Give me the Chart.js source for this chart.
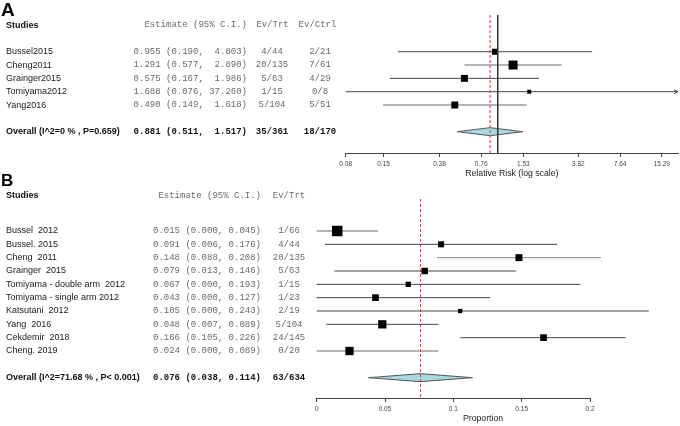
<!DOCTYPE html>
<html>
<head>
<meta charset="utf-8">
<script src="https://cdn.jsdelivr.net/npm/chart.js@4.4.1/dist/chart.umd.min.js"></script>
<style>
    html, body { margin: 0; padding: 0; background: #fff; }
    #wrap { position: relative; width: 680px; height: 426px; overflow: hidden; }
    #wrap canvas { position: absolute; left: 0; }
    #chartA { top: 0; }
    #chartB { top: 168px; }
</style>
</head>
<body>
<div id="wrap">
    <canvas id="chartA" width="680" height="180"></canvas>
    <canvas id="chartB" width="680" height="258"></canvas>
</div>
<script>
// Panel A - relative risk per study
const studiesA = ['Bussel2015', 'Cheng2011', 'Grainger2015', 'Tomiyama2012', 'Yang2016'];
const estA = [0.955, 1.291, 0.575, 1.688, 0.490];
const lowA = [0.190, 0.577, 0.167, 0.076, 0.149];
const highA = [4.803, 2.890, 1.986, 37.260, 1.618];
const evTrtA = ['4/44', '20/135', '5/63', '1/15', '5/104'];
const evCtrlA = ['2/21', '7/61', '4/29', '0/8', '5/51'];
const overallLabelA = 'Overall (I^2=0 % , P=0.659)';
const overallA = [0.881, 0.511, 1.517];   // estimate, low, high
const overallEvA = ['35/361', '18/170'];
const ticksA = [0.08, 0.15, 0.38, 0.76, 1.53, 3.82, 7.64, 15.29];
const tickLabelsA = ['0.08', '0.15', '0.38', '0.76', '1.53', '3.82', '7.64', '15.29'];

// Panel B - proportion per study
const studiesB = ['Bussel  2012', 'Bussel. 2015', 'Cheng  2011', 'Grainger  2015',
    'Tomiyama - double arm  2012', 'Tomiyama - single arm 2012', 'Katsutani  2012',
    'Yang  2016', 'Cekdemir  2018', 'Cheng. 2019'];
const estB = [0.015, 0.091, 0.148, 0.079, 0.067, 0.043, 0.105, 0.048, 0.166, 0.024];
const lowB = [0.000, 0.006, 0.088, 0.013, 0.000, 0.000, 0.000, 0.007, 0.105, 0.000];
const highB = [0.045, 0.176, 0.208, 0.146, 0.193, 0.127, 0.243, 0.089, 0.226, 0.089];
const evTrtB = ['1/66', '4/44', '20/135', '5/63', '1/15', '1/23', '2/19', '5/104', '24/145', '0/20'];
const overallLabelB = 'Overall (I^2=71.68 % , P< 0.001)';
const overallB = [0.076, 0.038, 0.114];
const overallEvB = ['63/634'];
const ticksB = [0, 0.05, 0.1, 0.15, 0.2];
const tickLabelsB = ['0', '0.05', '0.1', '0.15', '0.2'];

// Styles
const boxSidesA = [6, 9, 7, 4, 7];
const boxSidesB = [10.5, 6, 7, 6.5, 5.3, 6.7, 4.3, 8.3, 6.7, 8.3];
const DARK = '#444';
const LIGHT = '#9c9c9c';
const ciColorsA = [DARK, LIGHT, DARK, DARK, LIGHT];
const ciColorsB = [LIGHT, DARK, LIGHT, DARK, DARK, DARK, DARK, DARK, DARK, LIGHT];

const SANS = '"Liberation Sans", Arial, sans-serif';
const MONO = '"Liberation Mono", "Courier New", monospace';
Chart.defaults.font.family = SANS;

// Format "0.955 (0.190,  4.803)"
function formatCI(est, low, high, width) {
    return est.toFixed(3) + ' (' + low.toFixed(3) + ', ' + high.toFixed(3).padStart(width) + ')';
}

// Build the marks of one forest plot
function forestDatasets(p) {
    const sets = [];
    const ov = p.overallRow;
    const h = 0.3;

    // reference lines on top
    p.refLines.forEach(r => {
        sets.push({
            data: [{x: r.x, y: p.refTop}, {x: r.x, y: p.refBottom}],
            borderColor: r.color, borderWidth: 1, borderDash: r.dash || [],
            pointRadius: 0, clip: false
        });
    });

    // study boxes
    sets.push({
        data: p.est.map((e, i) => ({x: e, y: i})),
        showLine: false,
        pointStyle: 'rect',
        pointRadius: p.boxSides.map(s => s / Math.SQRT2),
        pointBackgroundColor: '#000',
        pointBorderColor: '#000',
        pointBorderWidth: 0,
        clip: false
    });

    // summary diamond
    sets.push({
        data: [
            {x: p.overall[1], y: ov},
            {x: p.overall[0], y: ov - h},
            {x: p.overall[2], y: ov},
            {x: p.overall[0], y: ov + h},
            {x: p.overall[1], y: ov}
        ],
        borderColor: '#555', borderWidth: 1,
        backgroundColor: '#a8d8e2', fill: 'shape',
        pointRadius: 0, clip: false
    });

    // confidence intervals
    p.est.forEach((e, i) => {
        sets.push({
            data: [{x: p.low[i], y: i}, {x: p.high[i], y: i}],
            borderColor: p.ciColors[i],
            borderWidth: p.ciColors[i] === LIGHT ? 1.4 : 1,
            pointRadius: 0,
            clip: p.clipCI
        });
    });
    return sets;
}

// Draw the study table and extras next to the plot
function tablePlugin(t) {
    return {
        id: 'table' + t.letter,
        afterDraw(chart) {
            const ctx = chart.ctx;
            const y = chart.scales.y;
            const x = chart.scales.x;
            ctx.save();

            // panel letter
            ctx.fillStyle = '#000';
            ctx.font = 'bold ' + t.letterSize + 'px ' + SANS;
            ctx.textAlign = 'left';
            ctx.textBaseline = 'alphabetic';
            ctx.fillText(t.letter, 1, t.letterBase);

            ctx.textBaseline = 'middle';
            const hy = y.getPixelForValue(t.headerRow);

            // headers
            ctx.fillStyle = '#111';
            ctx.font = 'bold 9px ' + SANS;
            ctx.fillText('Studies', 6, hy);
            ctx.fillStyle = '#6a6a6a';
            ctx.font = '9px ' + MONO;
            ctx.textAlign = 'right';
            ctx.fillText('Estimate (95% C.I.)', t.estRight, hy);
            ctx.textAlign = 'center';
            t.evHeaders.forEach((hd, k) => ctx.fillText(hd, t.evHeaderX[k], hy));

            // study rows
            const width = Math.max(...t.high.map(v => v.toFixed(3).length));
            t.studies.forEach((name, i) => {
                const ry = y.getPixelForValue(i);
                ctx.fillStyle = '#1a1a1a';
                ctx.font = '9px ' + SANS;
                ctx.textAlign = 'left';
                ctx.fillText(name, 6, ry);
                ctx.fillStyle = '#6a6a6a';
                ctx.font = '9px ' + MONO;
                ctx.textAlign = 'right';
                ctx.fillText(formatCI(t.est[i], t.low[i], t.high[i], width), t.estRight, ry);
                ctx.textAlign = 'center';
                t.evCols.forEach((col, k) => ctx.fillText(col[i], t.evX[k], ry));

                // arrow where the interval leaves the log axis
                if (t.arrows && t.high[i] > x.max) {
                    const ax = x.right;
                    ctx.strokeStyle = DARK;
                    ctx.lineWidth = 1;
                    ctx.beginPath();
                    ctx.moveTo(ax - 4, ry - 2);
                    ctx.lineTo(ax, ry);
                    ctx.lineTo(ax - 4, ry + 2);
                    ctx.stroke();
                }
            });

            // overall row
            const oy = y.getPixelForValue(t.overallRow);
            ctx.fillStyle = '#111';
            ctx.font = 'bold 9px ' + SANS;
            ctx.textAlign = 'left';
            ctx.fillText(t.overallLabel, 6, oy);
            ctx.font = 'bold 9px ' + MONO;
            ctx.textAlign = 'right';
            ctx.fillText(formatCI(t.overall[0], t.overall[1], t.overall[2], width), t.estRight, oy);
            ctx.textAlign = 'center';
            t.overallEv.forEach((ev, k) => ctx.fillText(ev, t.evX[k], oy));

            // free axis title
            if (t.axisTitle) {
                ctx.fillStyle = '#222';
                ctx.font = '8.7px ' + SANS;
                ctx.fillText(t.axisTitle, t.axisTitleX, t.axisTitleY);
            }
            ctx.restore();
        }
    };
}

function axisOptions(o) {
    return {
        type: o.type,
        min: o.min,
        max: o.max,
        afterBuildTicks: s => { s.ticks = o.ticks.map(v => ({value: v})); },
        afterFit: s => { s.height = o.height; },
        grid: { drawOnChartArea: false, drawTicks: true, tickLength: 4, color: DARK },
        border: { display: true, color: DARK, width: 1 },
        ticks: {
            autoSkip: false, maxRotation: 0, padding: 3, color: '#444',
            font: { size: 6.5, family: SANS },
            callback: (v, i) => o.labels[i]
        },
        title: o.title ? {
            display: true, text: o.title, color: '#222',
            font: { size: 8.7, family: SANS }, padding: { top: 0, bottom: 1 }
        } : { display: false }
    };
}

// Panel A
new Chart(document.getElementById('chartA'), {
    type: 'line',
    data: {
        datasets: forestDatasets({
            est: estA, low: lowA, high: highA, overall: overallA, overallRow: 6,
            boxSides: boxSidesA, ciColors: ciColorsA, clipCI: true,
            refTop: -2.75, refBottom: 7.6,
            refLines: [
                { x: overallA[0], color: '#e53030', dash: [3, 2] },
                { x: 1, color: '#333' }
            ]
        })
    },
    options: {
        responsive: false,
        animation: false,
        events: [],
        layout: { autoPadding: false, padding: { left: 345.7, right: 2, top: 0, bottom: 0 } },
        plugins: { legend: { display: false }, tooltip: { enabled: false } },
        scales: {
            x: axisOptions({ type: 'logarithmic', min: 0.08, max: 20, ticks: ticksA,
                labels: tickLabelsA, height: 27, title: 'Relative Risk (log scale)' }),
            y: { type: 'linear', display: false, reverse: true, min: -3.88, max: 7.6 }
        }
    },
    plugins: [tablePlugin({
        letter: 'A', letterSize: 19, letterBase: 15.5, headerRow: -2, arrows: true,
        studies: studiesA, est: estA, low: lowA, high: highA,
        evCols: [evTrtA, evCtrlA], evX: [272, 320],
        evHeaders: ['Ev/Trt', 'Ev/Ctrl'], evHeaderX: [272.5, 317.5],
        estRight: 247, overallRow: 6, overallLabel: overallLabelA,
        overall: overallA, overallEv: overallEvA
    })]
});

// Panel B
new Chart(document.getElementById('chartB'), {
    type: 'line',
    data: {
        datasets: forestDatasets({
            est: estB, low: lowB, high: highB, overall: overallB, overallRow: 11,
            boxSides: boxSidesB, ciColors: ciColorsB, clipCI: false,
            refTop: -2.4, refBottom: 12.525,
            refLines: [
                { x: overallB[0], color: '#e53030', dash: [3, 2] }
            ]
        })
    },
    options: {
        responsive: false,
        animation: false,
        events: [],
        layout: { autoPadding: false, padding: { left: 316.7, right: 90, top: 0, bottom: 0 } },
        plugins: { legend: { display: false }, tooltip: { enabled: false } },
        scales: {
            x: axisOptions({ type: 'linear', min: 0, max: 0.2, ticks: ticksB,
                labels: tickLabelsB, height: 28 }),
            y: { type: 'linear', display: false, reverse: true, min: -4.725, max: 12.525 }
        }
    },
    plugins: [tablePlugin({
        letter: 'B', letterSize: 17, letterBase: 17.5, headerRow: -2.65, arrows: false,
        studies: studiesB, est: estB, low: lowB, high: highB,
        evCols: [evTrtB], evX: [289],
        evHeaders: ['Ev/Trt'], evHeaderX: [289],
        estRight: 261, overallRow: 11, overallLabel: overallLabelB,
        overall: overallB, overallEv: overallEvB,
        axisTitle: 'Proportion', axisTitleX: 483, axisTitleY: 250.7
    })]
});
</script>
</body>
</html>
